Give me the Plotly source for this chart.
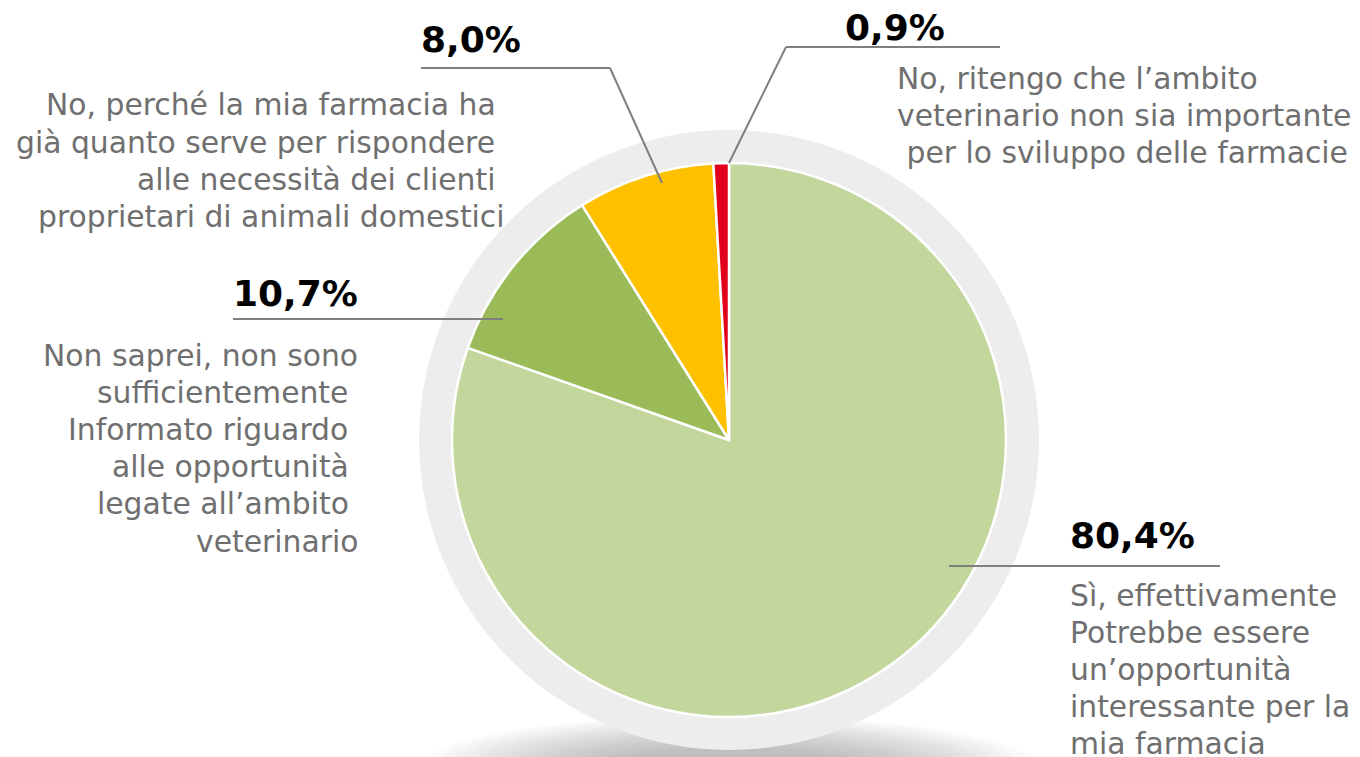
import plotly.graph_objects as go

# Survey answers, clockwise from 12 o'clock
answers = [
    "Sì, effettivamente Potrebbe essere un’opportunità interessante per la mia farmacia",
    "Non saprei, non sono sufficientemente Informato riguardo alle opportunità legate all’ambito veterinario",
    "No, perché la mia farmacia ha già quanto serve per rispondere alle necessità dei clienti proprietari di animali domestici",
    "No, ritengo che l’ambito veterinario non sia importante per lo sviluppo delle farmacie",
]
shares = [80.4, 10.7, 8.0, 0.9]
share_labels = ["80,4%", "10,7%", "8,0%", "0,9%"]
slice_colors = ["#c3d69b", "#9bbb59", "#ffc000", "#e0001b"]

NB = "\u00a0"
# wrapped answer text, one entry per printed line
answer_lines = [
    ["Sì, effettivamente", "Potrebbe essere", "un’opportunità", "interessante per la", "mia farmacia"],
    ["Non saprei, non sono", "sufficientemente" + NB, "Informato riguardo" + NB,
     "alle opportunità" + NB, "legate all’ambito" + NB, "veterinario"],
    ["No, perché la mia farmacia ha" + NB, "già quanto serve per rispondere" + NB,
     "alle necessità dei clienti" + NB, "proprietari di animali domestici"],
    ["No, ritengo che l’ambito", "veterinario non sia importante", NB + "per lo sviluppo delle farmacie"],
]

W, H = 1360, 757
CX, CY, R = 729, 440, 277      # pie centre and radius (px)
RING = 310                      # grey backdrop radius (px)
STEP = 37.2                     # line spacing of the answer text (px)

def px(x):
    return x / W

def py(y):
    return 1 - y / H

fig = go.Figure(go.Pie(
    labels=answers,
    values=shares,
    sort=False,
    direction="clockwise",
    rotation=0,
    marker=dict(colors=slice_colors, line=dict(color="white", width=2.5)),
    textinfo="none",
    hoverinfo="label+percent",
    showlegend=False,
    domain=dict(x=[px(CX - R), px(CX + R)], y=[py(CY + R), py(CY - R)]),
))

shapes = []
# soft drop shadow under the disc
for i in range(16):
    rx = 305 - i * 12
    ry = 50 - i * 2.2
    cy = 766
    shapes.append(dict(type="circle", xref="paper", yref="paper",
                       x0=px(CX - rx), x1=px(CX + rx), y0=py(cy + ry), y1=py(cy - ry),
                       fillcolor="#808080", opacity=0.045, line=dict(width=0), layer="below"))
# grey backdrop disc
shapes.append(dict(type="circle", xref="paper", yref="paper",
                   x0=px(CX - RING), x1=px(CX + RING), y0=py(CY + RING), y1=py(CY - RING),
                   fillcolor="#ededed", line=dict(width=0), layer="below"))

# leader lines
LINE = dict(color="#7f7f7f", width=2)
leaders = [
    [(949, 566), (1220, 566)],
    [(503, 319), (233, 319)],
    [(662, 183), (610, 68), (421, 68)],
    [(729, 163), (786, 47), (1000, 47)],
]
for pts in leaders:
    for (x0, y0), (x1, y1) in zip(pts[:-1], pts[1:]):
        shapes.append(dict(type="line", xref="paper", yref="paper",
                           x0=px(x0), y0=py(y0), x1=px(x1), y1=py(y1), line=LINE))

FONT = "'DejaVu Sans', Verdana, sans-serif"
BOLD = dict(family=FONT, size=36, color="#000000", weight="bold")
TXT = dict(family=FONT, size=29.8, color="#6f6f6f")

annotations = []
# value labels: (left x, centre y)
value_pos = [(1068, 535), (231, 293), (419, 40), (843, 28)]
for lab, (x, y) in zip(share_labels, value_pos):
    annotations.append(dict(x=px(x), y=py(y), text=lab, xanchor="left", yanchor="middle", font=BOLD))

# answer text blocks: (anchor x, first line centre y, horizontal anchor)
block_pos = [(1068, 595, "left"), (360, 355, "right"), (507, 105, "right"), (895, 78, "left")]
for lines, (x, y0, anchor) in zip(answer_lines, block_pos):
    for k, line in enumerate(lines):
        annotations.append(dict(x=px(x), y=py(y0 + k * STEP), text=line,
                                xanchor=anchor, yanchor="middle", font=TXT))

for a in annotations:
    a.update(xref="paper", yref="paper", showarrow=False)

fig.update_layout(
    width=W, height=H,
    margin=dict(l=0, r=0, t=0, b=0),
    paper_bgcolor="white", plot_bgcolor="white",
    shapes=shapes, annotations=annotations,
)

fig.write_html("out.html")
